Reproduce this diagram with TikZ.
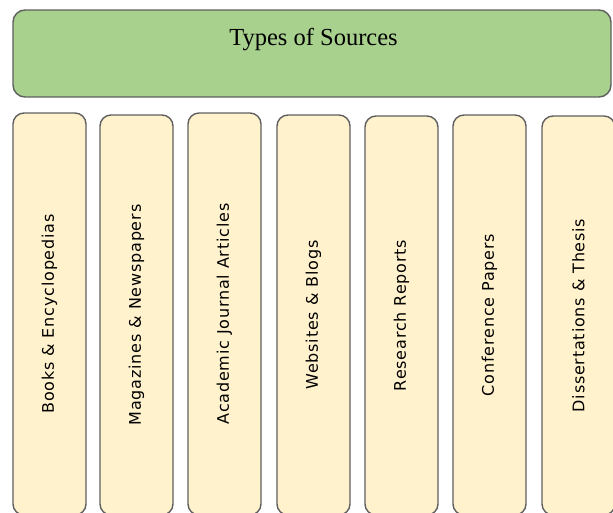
\documentclass[tikz,border=0pt]{standalone}
\usepackage{fontspec}
\setmainfont{Liberation Serif}
\newfontfamily\boxfont[LetterSpace=5]{DejaVu Sans}
\definecolor{titlegreen}{HTML}{A9D18E}
\definecolor{boxcream}{HTML}{FFF2CC}
\definecolor{edgegray}{HTML}{5F5F5F}
\tikzset{
  titlebox/.style={draw=edgegray, line width=1.4pt, fill=titlegreen, rounded corners=12pt,
    minimum width=598pt, minimum height=87pt, inner sep=0pt},
  srcbox/.style={draw=edgegray, line width=1.4pt, fill=boxcream, rounded corners=11pt,
    minimum width=73pt, inner sep=0pt, font=\boxfont\fontsize{16}{19}\selectfont},
  titletext/.style={font=\fontsize{24.5}{28}\selectfont, inner sep=0pt}
}
\begin{document}
\begin{tikzpicture}[x=1pt,y=-1pt]
\useasboundingbox (0,0) rectangle (613,512);
\clip (0,0) rectangle (613,512);
\node[titlebox] (title) at (312,53.5) {};
\node[titletext] (titlelbl) at (313.5,40) {Types of Sources};
\node[srcbox, minimum height=402pt] (b1) at (49.5,314) {\rotatebox{90}{Books \& Encyclopedias}};
\node[srcbox, minimum height=400pt] (b2) at (136.5,315) {\rotatebox{90}{Magazines \& Newspapers}};
\node[srcbox, minimum height=402pt] (b3) at (224.5,314) {\rotatebox{90}{Academic Journal Articles}};
\node[srcbox, minimum height=400pt] (b4) at (313.5,315) {\rotatebox{90}{Websites \& Blogs}};
\node[srcbox, minimum height=399pt] (b5) at (401.5,315.5) {\rotatebox{90}{Research Reports}};
\node[srcbox, minimum height=400pt] (b6) at (489.5,315) {\rotatebox{90}{Conference Papers}};
\node[srcbox, minimum height=399pt] (b7) at (578.5,315.5) {\rotatebox{90}{Dissertations \& Thesis}};
\end{tikzpicture}
\end{document}
